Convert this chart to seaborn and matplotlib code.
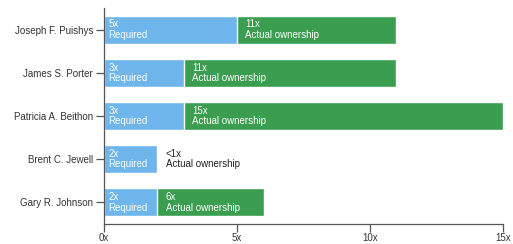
"""Stock ownership guidelines: required vs actual multiple of salary."""

import matplotlib
matplotlib.use("Agg")
import matplotlib.pyplot as plt
import pandas as pd
import seaborn as sns

executives = ["Joseph F. Puishys", "James S. Porter", "Patricia A. Beithon",
              "Brent C. Jewell", "Gary R. Johnson"]
required = [5, 3, 3, 2, 2]
actual = [11, 11, 15, 0.5, 6]
required_labels = ["5x", "3x", "3x", "2x", "2x"]
actual_labels = ["11x", "11x", "15x", "<1x", "6x"]
x_ticks = [0, 5, 10, 15]
x_tick_labels = ["0x", "5x", "10x", "15x"]

BLUE = "#6db5ea"
GREEN = "#3a9d4f"
AXIS_GREY = "#555555"

df = pd.DataFrame({"name": executives, "required": required, "actual": actual})

sns.set_style("ticks")
plt.rcParams["font.family"] = ["Liberation Sans", "DejaVu Sans"]

fig = plt.figure(figsize=(5.13, 2.44), dpi=100)
ax = fig.add_axes([0.203, 0.082, 0.777, 0.885])

# actual ownership underneath, required on top
sns.barplot(data=df, x="actual", y="name", orient="h", color=GREEN,
            saturation=1, width=0.65, ax=ax)
sns.barplot(data=df, x="required", y="name", orient="h", color=BLUE,
            saturation=1, width=0.65, ax=ax)

for i in range(len(executives)):
    ax.annotate(f"{required_labels[i]}\nRequired", (0, i), xytext=(3, 0),
                textcoords="offset points", ha="left", va="center",
                fontsize=7, color="white", linespacing=1.05)
    inside = actual[i] > required[i]
    ax.annotate(f"{actual_labels[i]}\nActual ownership", (required[i], i),
                xytext=(6, 0), textcoords="offset points", ha="left",
                va="center", fontsize=7, linespacing=1.05,
                color="white" if inside else "#222222")

ax.set_xlim(0, 15)
ax.set_ylim(4.5, -0.5)
ax.set_xticks(x_ticks)
ax.set_xticklabels(x_tick_labels)
ax.set_xlabel("")
ax.set_ylabel("")

sns.despine(ax=ax)
for side in ["left", "bottom"]:
    ax.spines[side].set_color(AXIS_GREY)
    ax.spines[side].set_linewidth(0.9)

ax.tick_params(axis="both", direction="out", width=0.9, color=AXIS_GREY,
               labelsize=7, labelcolor="#333333", left=True, bottom=True)
ax.tick_params(axis="y", length=6, pad=2)
ax.tick_params(axis="x", length=6, pad=0.5)

plt.savefig("out.png", dpi=100)
plt.close()
